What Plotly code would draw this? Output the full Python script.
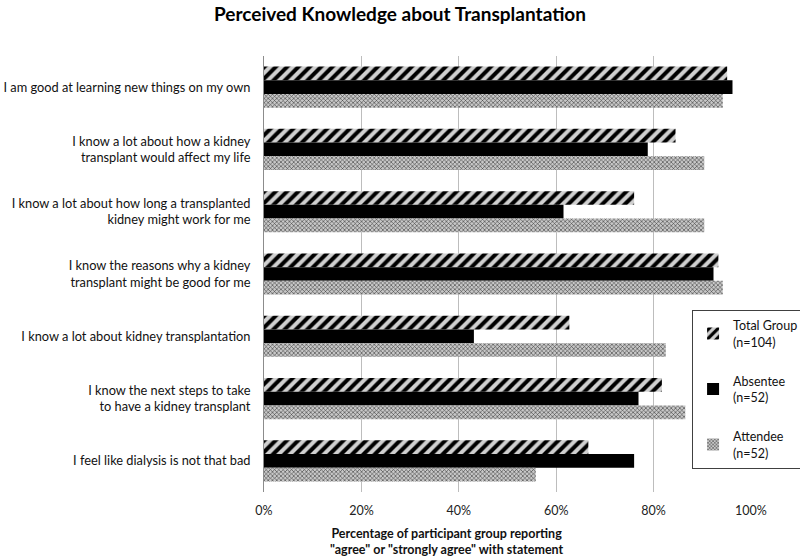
import plotly.graph_objects as go

categories = [
    "I am good at learning new things on my own",
    "I know a lot about how a kidney<br>transplant would affect my life",
    "I know a lot about how long a transplanted<br>kidney might work for me",
    "I know the reasons why a kidney<br>transplant might be good for me",
    "I know a lot about kidney transplantation",
    "I know the next steps to take<br>to have a kidney transplant",
    "I feel like dialysis is not that bad",
]
total_group = [0.951, 0.845, 0.760, 0.933, 0.627, 0.817, 0.666]
absentee = [0.962, 0.788, 0.615, 0.923, 0.431, 0.769, 0.760]
attendee = [0.942, 0.904, 0.904, 0.942, 0.825, 0.865, 0.558]
series_names = ["Total Group<br>(n=104)", "Absentee<br>(n=52)", "Attendee<br>(n=52)"]
x_ticks = [0, 0.2, 0.4, 0.6, 0.8, 1.0]
x_tick_labels = ["0%", "20%", "40%", "60%", "80%", "100%"]
title_text = "Perceived Knowledge about Transplantation"
x_title = "Percentage of participant group reporting<br>\"agree\" or \"strongly agree\" with statement"

FONT = "Lato"

fig = go.Figure()
fig.add_trace(go.Bar(
    y=categories, x=total_group, name=series_names[0], orientation="h",
    legendgroup="a",
    marker=dict(color="#d0d0d0",
                pattern=dict(shape="/", fgcolor="#000000", bgcolor="#d0d0d0",
                             size=8, solidity=0.5, fillmode="replace"),
                line=dict(width=0)),
))
fig.add_trace(go.Bar(
    y=categories, x=absentee, name=series_names[1], orientation="h",
    legendgroup="b",
    marker=dict(color="#000000", line=dict(width=0)),
))
fig.add_trace(go.Bar(
    y=categories, x=attendee, name=series_names[2], orientation="h",
    legendgroup="c",
    marker=dict(color="#c8c8c8",
                pattern=dict(shape="x", fgcolor="#3a3a3a", bgcolor="#c8c8c8",
                             size=3, solidity=0.35, fillmode="replace"),
                line=dict(width=0)),
))

fig.add_annotation(
    x=0.376, xref="paper", y=-0.113, yref="paper", text="<b>" + x_title + "</b>",
    showarrow=False, xanchor="center", yanchor="middle", align="center",
    font=dict(family=FONT, size=12.5, color="#111111"),
)

fig.update_layout(
    width=800, height=559,
    margin=dict(l=264, r=49, t=56, b=67, autoexpand=False),
    paper_bgcolor="white", plot_bgcolor="white",
    barmode="group", bargap=0.34, bargroupgap=0,
    font=dict(family=FONT, size=13, color="#111111"),
    title=dict(text="<b>" + title_text + "</b>", x=0.5, xref="container",
               xanchor="center", y=0.975, yanchor="middle",
               font=dict(family=FONT, size=19, color="#000000")),
    xaxis=dict(range=[0, 1.0], tickvals=x_ticks, ticktext=x_tick_labels,
               showgrid=True, gridcolor="#bdbdbd", gridwidth=1,
               zeroline=False, showline=False, ticks="", ticklabelstandoff=9,
               tickfont=dict(family=FONT, size=12.5, color="#222222")),
    yaxis=dict(autorange="reversed", showticklabels=True, showgrid=False,
               showline=True, linecolor="#8c8c8c", linewidth=1, ticks="",
               ticklabelstandoff=10,
               tickfont=dict(family=FONT, size=12.8, color="#111111")),
    legend=dict(x=0.879, xanchor="left", y=0.418, yanchor="top",
                bordercolor="#404040", borderwidth=1, bgcolor="white",
                traceorder="grouped", tracegroupgap=20, itemwidth=30,
                font=dict(family=FONT, size=12.5, color="#111111")),
    showlegend=True,
)

fig.write_html("out.html", config={"displayModeBar": False},
               post_script="document.body.style.margin='0';document.body.style.padding='0';")
